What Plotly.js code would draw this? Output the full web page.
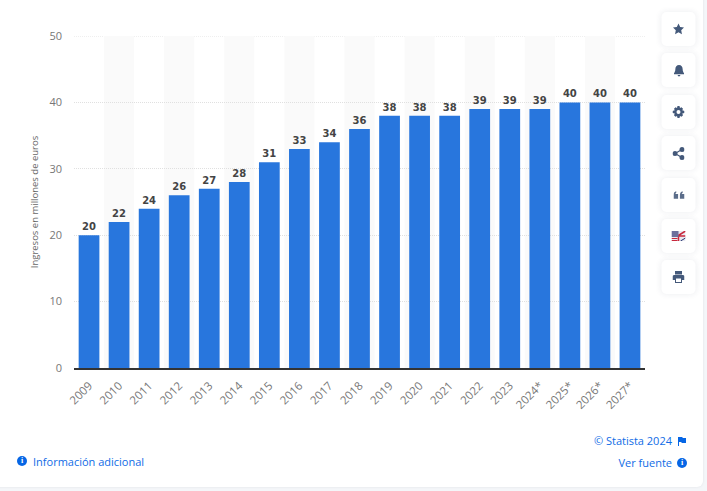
<!DOCTYPE html>
<html><head><meta charset="utf-8">
<script src="https://cdn.plot.ly/plotly-3.0.1.min.js"></script>
<style>
html,body{margin:0;padding:0;width:707px;height:491px;overflow:hidden;background:#f4f6f9;font-family:"Open Sans",sans-serif}
#card{position:absolute;left:-8px;top:-8px;width:711px;height:495px;background:#fff;border-radius:6px;box-shadow:0 0 3px rgba(0,0,0,.08)}
#chart{position:absolute;left:0;top:0;width:707px;height:491px}
.btn{position:absolute;left:662px;width:34px;height:34px;background:#fff;border-radius:5px;box-shadow:0 0 6px rgba(40,60,90,.09);display:flex;align-items:center;justify-content:center;transform:translateX(-0.5px)}
.btn svg{display:block}
.lnk{position:absolute;color:#0f6ce6;font-size:11px;line-height:14px;white-space:nowrap}
.dot{position:absolute;width:10px;height:10px;border-radius:50%;background:#0666e5;color:#fff;font:bold 8px/10px "Liberation Serif",serif;text-align:center}
</style></head><body>
<div id="card"></div>
<div id="chart"></div>
<div class="btn" style="top:12px"><svg width="12" height="12" viewBox="0 0 24 24"><path fill="#44597a" d="M12 1l3.4 7.2 7.6 1-5.6 5.4 1.5 7.8L12 18.6l-6.9 3.8 1.5-7.8L1 9.2l7.6-1z"/></svg></div>
<div class="btn" style="top:53px"><svg width="11" height="13" viewBox="0 0 24 26"><path fill="#44597a" d="M12 1c-5 0-8 4-8 9 0 5-2 7-3 9v2h22v-2c-1-2-3-4-3-9 0-5-3-9-8-9zM9 23h6c0 2-1.500 3-3 3s-3-1-3-3z"/></svg></div>
<div class="btn" style="top:95px"><svg width="12" height="12" viewBox="0 0 24 24"><path fill="#44597a" fill-rule="evenodd" d="M10 0h4l1 4 3-1.700 3 3L19.500 8.500 24 10v4l-4.500 1.200L21 18.500l-3 3-3-1.500-1 4h-4l-1-4-3 1.500-3-3 1.500-3.300L0 14v-4l4.500-1.500L3 5.300l3-3L9 4zM12 8a4 4 0 100 8 4 4 0 000-8z"/></svg></div>
<div class="btn" style="top:136px"><svg width="12" height="13" viewBox="0 0 24 26"><g fill="#44597a"><circle cx="5" cy="13" r="5"/><circle cx="19" cy="5" r="5"/><circle cx="19" cy="21" r="5"/></g><path stroke="#44597a" stroke-width="2.500" d="M5 13L19 5M5 13l14 8"/></svg></div>
<div class="btn" style="top:178px"><svg width="11" height="8" viewBox="0 0 24 16"><path fill="#5b6d8a" d="M0 8c0-4 2-7 6-8v3C4.500 4 4 5 4 6h6v10H0zM14 8c0-4 2-7 6-8v3c-1.500 1-2 2-2 3h6v10H14z"/></svg></div>
<div class="btn" style="top:219px"><svg width="14" height="10" viewBox="0 0 14 10"><rect width="14" height="10" fill="#e8e8f0"/><path stroke="#c8283c" stroke-width="1.500" d="M6 5L14 0M6 5h8M7 5v5"/><path stroke="#24336e" stroke-width="1" d="M9 10L14 7"/><rect width="7" height="6" fill="#6b6f9c"/><path stroke="#c8283c" d="M0 7.500h6M0 9.500h6"/></svg></div>
<div class="btn" style="top:260px"><svg width="12" height="12" viewBox="0 0 24 24"><path fill="#44597a" fill-rule="evenodd" d="M5 0h14v7H5zM3 8h18a3 3 0 013 3v7h-5v6H5v-6H0v-7a3 3 0 013-3zM7 15v7h10v-7z"/></svg></div>
<div class="dot" style="left:17px;top:456px">i</div>
<div class="lnk" style="left:33px;top:455px">Información adicional</div>
<div class="lnk" style="right:35px;top:434px">© Statista 2024</div>
<svg style="position:absolute;left:678px;top:437px" width="8" height="9" viewBox="0 0 8 9"><path fill="#0666e5" d="M0 0h1v9H0zM1 0h3l1 1h3v5H4L3 5H1z"/></svg>
<div class="lnk" style="right:35px;top:456px">Ver fuente</div>
<div class="dot" style="left:677px;top:458px">i</div>
<script>
var categories=['2009','2010','2011','2012','2013','2014','2015','2016','2017','2018','2019','2020','2021','2022','2023','2024*','2025*','2026*','2027*'];
var revenue=[20,22,24,26,27,28,31,33,34,36,38,38,38,39,39,39,40,40,40];
var yTicks=[0,10,20,30,40,50];
var stripes=categories.map(function(c,i){return i;}).filter(function(i){return i%2===1;}).map(function(i){
  return {type:'rect',layer:'below',xref:'x',yref:'y',x0:i-0.5,x1:i+0.5,y0:0,y1:50,fillcolor:'#fafafa',line:{width:0}};
});
var topRule={type:'line',layer:'below',xref:'paper',yref:'y',x0:0,x1:1,y0:50,y1:50,line:{color:'#e0e0e0',width:1,dash:'1px,1px'}};
Plotly.newPlot('chart',[{
  type:'bar',x:categories,y:revenue,text:revenue.map(String),textposition:'outside',cliponaxis:false,
  textfont:{family:'"DejaVu Sans",sans-serif',size:10,color:'#444'},
  texttemplate:'<b>%{text}</b>',
  marker:{color:'#2876dd'},width:0.69,hoverinfo:'skip'
}],{
  width:707,height:491,showlegend:false,
  paper_bgcolor:'rgba(0,0,0,0)',plot_bgcolor:'rgba(0,0,0,0)',
  margin:{l:73.5,r:61.5,t:35.5,b:123,autoexpand:false},
  bargap:0.3,shapes:stripes.concat([topRule]),
  xaxis:{type:'category',categoryorder:'array',categoryarray:categories,range:[-0.5,18.5],tickangle:-45,
    tickfont:{family:'"Open Sans",sans-serif',size:11.5,color:'#777'},showgrid:false,ticks:'',ticklabelstandoff:5,
    showline:true,linecolor:'#333',linewidth:1.5,fixedrange:true},
  yaxis:{range:[0,50],tickvals:yTicks,ticktext:yTicks.map(String),zeroline:false,ticks:'',ticklabelstandoff:11,
    tickfont:{family:'"Open Sans",sans-serif',size:11,color:'#777'},
    gridcolor:'#e0e0e0',griddash:'1px,1px',gridwidth:1,showline:false,ticklen:0,
    title:{text:'Ingresos en millones de euros',font:{family:'"Open Sans",sans-serif',size:9.5,color:'#666'},standoff:9},fixedrange:true},
  font:{family:'"Open Sans",sans-serif'}
},{displayModeBar:false,staticPlot:true});
</script>
</body></html>
